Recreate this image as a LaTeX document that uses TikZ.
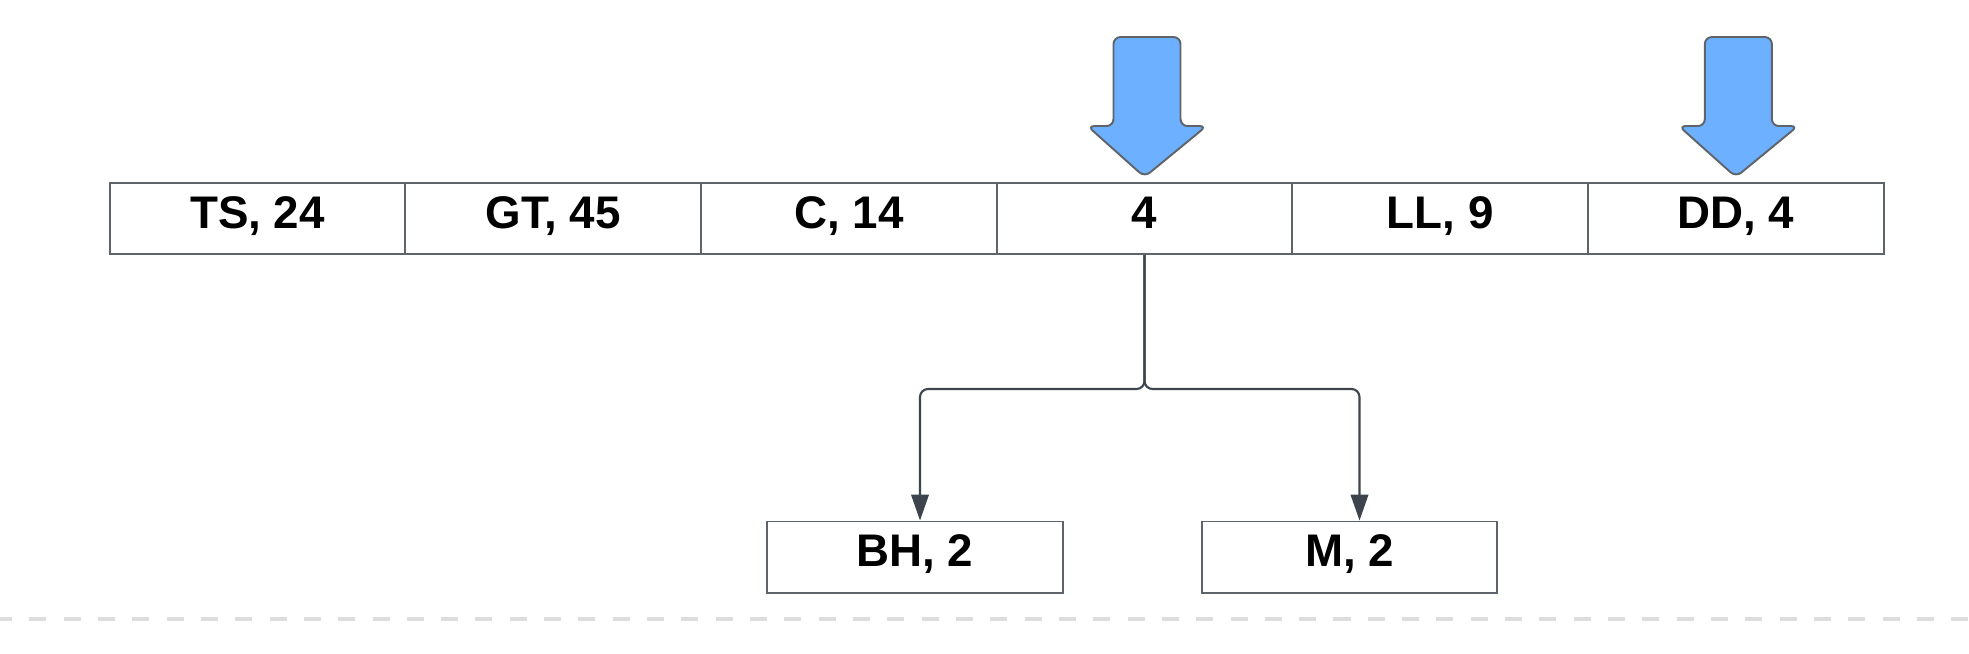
\documentclass[tikz,border=0pt]{standalone}
\usepackage{fontspec}
\setmainfont{Liberation Sans}
\usetikzlibrary{arrows.meta}
\usetikzlibrary{positioning}
\definecolor{cellline}{HTML}{5F646B}
\definecolor{linkline}{HTML}{3D444D}
\definecolor{pointblue}{HTML}{6CB0FF}
\definecolor{rulegray}{HTML}{DDDDDD}

\begin{document}
\begin{tikzpicture} [
        x=0.01cm, y=-0.01cm,
        cell/.style={draw=cellline, rectangle, line width=0.55pt, minimum width=2.955cm,
            minimum height=0.71cm, inner sep=0pt, text height=0.33cm, text depth=0.14cm,
            font=\fontsize{13}{15}\selectfont\bfseries},
        pointer/.style={draw=cellline, fill=pointblue, line width=0.55pt, rounded corners=0.07cm},
        link/.style={draw=linkline, line width=0.6pt, rounded corners=0.08cm, ->},
        >={Triangle[length=7.4pt,width=5pt]},
        node distance=2.955cm ]
    \useasboundingbox (0,0) rectangle (1969,653);
    \node[cell] at (257.5,218.5) (c1) {TS, 24};
    \node[cell, right of=c1] (c2) {GT, 45};
    \node[cell, right of=c2] (c3) {C, 14};
    \node[cell, right of=c3] (c4) {4};
    \node[cell, right of=c4] (c5) {LL, 9};
    \node[cell, right of=c5] (c6) {DD, 4};
    \node[cell] at (915,557) (bh) {BH, 2};
    \node[cell] at (1349.5,557) (m) {M, 2};
    % pointers on top of the row
    \draw[pointer] ([yshift=0.05cm]c4.north) -- ++(62,-51) -- ++(-26,0) -- ++(0,-89) -- ++(-67,0)
        -- ++(0,89) -- ++(-26,0) -- cycle;
    \draw[pointer] ([yshift=0.05cm]c6.north) -- ++(62,-51) -- ++(-26,0) -- ++(0,-89) -- ++(-67,0)
        -- ++(0,89) -- ++(-26,0) -- cycle;
    % children of 4
    \draw[link] (c4.south) -- ++(0,134) -| ([xshift=0.05cm]bh.north);
    \draw[link] (c4.south) -- ++(0,134) -| ([xshift=0.1cm]m.north);
    \draw[rulegray, line width=1.4pt, dash pattern=on 0.17cm off 0.173cm, dash phase=0.05cm]
        (0,619) -- (1969,619);
\end{tikzpicture}
\end{document}
